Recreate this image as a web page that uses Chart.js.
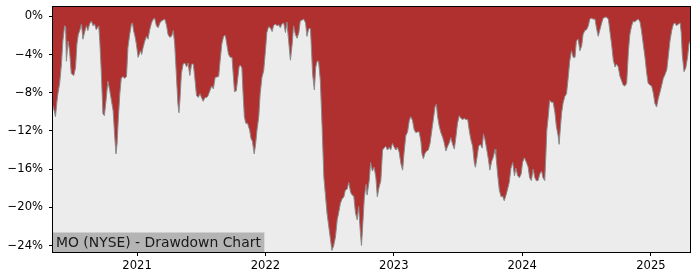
<!DOCTYPE html>
<html>
<head>
<meta charset="utf-8">
<script src="https://cdn.jsdelivr.net/npm/chart.js@4"></script>
<style>
html,body{margin:0;padding:0;background:#fff;}
#wrap{width:700px;height:280px;}
</style>
</head>
<body>
<div id="wrap"><canvas id="c" width="700" height="280"></canvas></div>
<script>
const dates = [
"2020-05-07","2020-05-11","2020-05-14","2020-05-18","2020-05-21","2020-05-26","2020-05-31","2020-06-04","2020-06-09","2020-06-12",
"2020-06-14","2020-06-19","2020-06-23","2020-06-28","2020-07-05","2020-07-10","2020-07-14","2020-07-18","2020-07-22","2020-07-27",
"2020-07-31","2020-08-06","2020-08-10","2020-08-14","2020-08-19","2020-08-24","2020-08-29","2020-09-02","2020-09-07","2020-09-14",
"2020-09-17","2020-09-21","2020-09-26","2020-09-30","2020-10-04","2020-10-10","2020-10-15","2020-10-20","2020-10-25","2020-10-29",
"2020-11-02","2020-11-05","2020-11-09","2020-11-13","2020-11-17","2020-11-22","2020-11-27","2020-12-02","2020-12-06","2020-12-11",
"2020-12-16","2020-12-19","2020-12-22","2020-12-26","2020-12-30","2021-01-04","2021-01-07","2021-01-11","2021-01-14","2021-01-18",
"2021-01-23","2021-01-28","2021-02-01","2021-02-06","2021-02-11","2021-02-16","2021-02-20","2021-02-25","2021-03-02","2021-03-07",
"2021-03-11","2021-03-16","2021-03-21","2021-03-26","2021-03-30","2021-04-04","2021-04-09","2021-04-14","2021-04-18","2021-04-23",
"2021-04-27","2021-04-30","2021-05-03","2021-05-07","2021-05-12","2021-05-17","2021-05-22","2021-05-26","2021-05-31","2021-06-05",
"2021-06-10","2021-06-14","2021-06-19","2021-06-24","2021-06-29","2021-07-03","2021-07-08","2021-07-13","2021-07-18","2021-07-22",
"2021-07-27","2021-08-01",
"2021-08-06","2021-08-11","2021-08-21","2021-08-25","2021-08-30","2021-09-04","2021-09-09","2021-09-13","2021-09-18","2021-09-23",
"2021-09-28","2021-10-02","2021-10-05","2021-10-10","2021-10-14","2021-10-18","2021-10-21","2021-10-26","2021-10-29","2021-11-02",
"2021-11-06","2021-11-11","2021-11-17","2021-11-21","2021-11-25","2021-11-30","2021-12-04","2021-12-08","2021-12-13","2021-12-17",
"2021-12-22","2021-12-27","2022-01-01","2022-01-05","2022-01-10","2022-01-15","2022-01-20","2022-01-24","2022-01-29","2022-02-03",
"2022-02-08","2022-02-12","2022-02-17","2022-02-22","2022-02-27","2022-03-03","2022-03-08","2022-03-13","2022-03-18","2022-03-22",
"2022-03-27","2022-04-01","2022-04-06","2022-04-10","2022-04-15","2022-04-20","2022-04-25","2022-04-29","2022-05-04","2022-05-09",
"2022-05-12","2022-05-15","2022-05-20","2022-05-24","2022-05-28","2022-06-01","2022-06-06","2022-06-11","2022-06-16","2022-06-20",
"2022-06-25","2022-06-30","2022-07-05","2022-07-09","2022-07-14","2022-07-19","2022-07-24","2022-07-28","2022-08-02","2022-08-07",
"2022-08-12","2022-08-16","2022-08-21","2022-08-26","2022-08-31","2022-09-04","2022-09-09","2022-09-14","2022-09-19","2022-09-23",
"2022-09-28","2022-10-01","2022-10-06","2022-10-09","2022-10-14","2022-10-17",
"2022-10-23","2022-10-27","2022-11-01","2022-11-06","2022-11-11","2022-11-15","2022-11-20","2022-11-25","2022-11-30","2022-12-04",
"2022-12-09","2022-12-14","2022-12-19","2022-12-23","2022-12-28","2023-01-02","2023-01-07","2023-01-11","2023-01-16","2023-01-21",
"2023-01-26","2023-01-30","2023-02-04","2023-02-09","2023-02-14","2023-02-18","2023-02-23","2023-02-28","2023-03-05","2023-03-09",
"2023-03-14","2023-03-19","2023-03-22","2023-03-26","2023-03-30","2023-04-04","2023-04-09","2023-04-14","2023-04-18","2023-04-23",
"2023-04-28","2023-05-02","2023-05-05","2023-05-10","2023-05-15","2023-05-20","2023-05-24","2023-05-29","2023-06-03","2023-06-08",
"2023-06-12","2023-06-17","2023-06-22","2023-06-27","2023-07-01","2023-07-06","2023-07-11","2023-07-16","2023-07-20","2023-07-25",
"2023-07-30","2023-08-04","2023-08-08","2023-08-13","2023-08-18","2023-08-21","2023-08-25","2023-08-30","2023-09-04","2023-09-09",
"2023-09-13","2023-09-17","2023-09-22","2023-09-27","2023-10-01","2023-10-06","2023-10-11","2023-10-16","2023-10-18","2023-10-23",
"2023-10-28","2023-11-02","2023-11-06","2023-11-11","2023-11-16","2023-11-21","2023-11-25","2023-11-30","2023-12-05","2023-12-10",
"2023-12-14","2023-12-19","2023-12-24","2023-12-29","2024-01-02","2024-01-07",
"2024-01-13","2024-01-18","2024-01-22","2024-01-27","2024-02-01","2024-02-06","2024-02-10","2024-02-15","2024-02-20","2024-02-25",
"2024-02-29","2024-03-05","2024-03-08","2024-03-11","2024-03-15","2024-03-19","2024-03-24","2024-03-29","2024-04-03","2024-04-07",
"2024-04-12","2024-04-15","2024-04-18","2024-04-22","2024-04-26","2024-05-01","2024-05-06","2024-05-11","2024-05-15","2024-05-20",
"2024-05-25","2024-05-30","2024-06-03","2024-06-08","2024-06-13","2024-06-18","2024-06-22","2024-06-27","2024-07-02","2024-07-07",
"2024-07-11","2024-07-16","2024-07-21","2024-07-26","2024-07-30","2024-08-04","2024-08-09","2024-08-14","2024-08-18","2024-08-23",
"2024-08-28","2024-09-02","2024-09-06","2024-09-11","2024-09-16","2024-09-21","2024-09-25","2024-09-30","2024-10-05","2024-10-10",
"2024-10-14","2024-10-19","2024-10-24","2024-10-29","2024-11-02","2024-11-07","2024-11-12","2024-11-16","2024-11-21","2024-11-26",
"2024-12-01","2024-12-05","2024-12-10","2024-12-15","2024-12-20","2024-12-24","2024-12-29","2025-01-03","2025-01-08","2025-01-12",
"2025-01-17","2025-01-22","2025-01-27","2025-01-31","2025-02-05","2025-02-10","2025-02-15","2025-02-19","2025-02-24","2025-03-01",
"2025-03-06","2025-03-10","2025-03-15","2025-03-20","2025-03-25","2025-03-28","2025-03-31","2025-04-05","2025-04-10","2025-04-15",
"2025-04-19","2025-04-22"
];

const drawdown = [
-9.4,-10.0,-10.5,-9.0,-8.1,-7.0,-5.0,-2.6,-1.0,-1.1,
-4.7,-2.6,-3.6,-6.0,-6.2,-5.4,-2.9,-1.9,-1.5,-0.8,
-2.4,-1.5,-1.0,-1.5,-0.8,-0.5,-1.0,-0.8,-1.4,-1.0,
-2.6,-5.6,-10.2,-10.4,-9.1,-6.8,-7.7,-8.8,-9.9,-12.3,
-14.4,-13.4,-10.5,-8.1,-6.5,-6.3,-6.5,-6.3,-3.3,-1.9,
-0.8,-0.7,-1.5,-2.1,-2.9,-4.3,-4.0,-3.6,-4.0,-3.3,
-2.6,-2.1,-2.4,-1.4,-0.7,-0.3,-0.2,-1.0,-1.2,-0.7,
-0.5,-0.4,-0.3,-1.0,-1.9,-2.2,-2.1,-1.5,-2.9,-6.3,
-9.1,-10.1,-8.7,-6.0,-5.0,-4.9,-5.3,-4.9,-6.2,-5.0,
-5.0,-6.4,-8.3,-8.5,-8.1,-8.5,-8.9,-8.5,-8.5,-8.3,
-7.8,-7.3,
-7.6,-6.4,-6.3,-4.7,-2.9,-2.1,-2.0,-2.9,-4.0,-4.3,
-4.3,-6.4,-7.9,-7.8,-6.6,-5.3,-5.1,-5.4,-7.8,-10.5,
-11.2,-11.2,-11.9,-12.8,-13.1,-14.4,-13.4,-11.9,-10.5,-8.1,
-6.4,-5.7,-3.6,-1.7,-1.1,-1.2,-1.6,-1.0,-0.8,-1.0,
-0.9,-1.2,-0.8,-0.7,-1.7,-0.6,-2.6,-4.6,-2.9,-1.0,
-1.9,-2.3,-1.7,-0.5,-0.4,-0.3,-0.7,-2.1,-1.3,-1.3,
-3.6,-6.0,-7.7,-5.3,-4.7,-4.7,-6.7,-11.5,-16.8,-18.5,
-20.6,-22.0,-23.4,-24.5,-24.0,-23.1,-21.3,-20.6,-19.6,-19.1,
-18.9,-18.2,-18.1,-17.4,-18.4,-18.7,-18.8,-20.6,-21.3,-19.9,
-22.7,-24.0,-21.0,-19.0,-17.6,-18.7,
-17.2,-15.3,-16.2,-15.8,-16.9,-18.9,-17.9,-17.2,-14.0,-13.8,
-13.6,-14.0,-13.7,-14.0,-13.3,-13.7,-14.0,-13.7,-14.2,-15.4,
-16.1,-14.3,-12.5,-12.1,-10.9,-10.5,-10.9,-11.9,-12.2,-12.1,
-12.1,-13.1,-14.4,-14.9,-14.4,-14.1,-14.0,-13.3,-12.2,-10.9,
-9.5,-9.2,-10.4,-11.5,-12.2,-12.7,-13.2,-14.1,-13.6,-13.2,
-12.7,-13.4,-13.9,-12.5,-11.2,-10.4,-10.7,-10.8,-10.7,-10.8,
-10.8,-12.1,-12.9,-13.6,-15.4,-15.8,-14.9,-13.6,-13.4,-13.8,
-12.3,-12.9,-13.9,-15.0,-16.1,-15.2,-14.7,-13.9,-14.4,-16.5,
-18.2,-18.9,-18.8,-19.3,-18.7,-18.0,-17.4,-15.9,-15.3,-16.7,
-15.9,-16.7,-16.9,-16.5,-15.3,-14.8,
-15.3,-15.8,-16.9,-17.2,-16.0,-16.9,-17.2,-17.2,-16.5,-16.2,
-16.9,-17.2,-14.7,-11.9,-10.5,-8.8,-9.0,-9.0,-10.1,-11.5,
-12.5,-13.4,-11.9,-10.1,-9.1,-8.4,-8.1,-6.3,-4.7,-3.6,
-4.3,-4.3,-2.6,-2.4,-3.6,-3.1,-1.9,-1.5,-1.4,-1.0,
-0.3,-0.2,-0.3,-0.3,-1.2,-2.1,-1.4,-0.7,-0.2,-0.1,
-0.1,-0.3,-1.5,-2.9,-4.6,-5.3,-5.0,-5.3,-6.3,-6.8,
-7.2,-7.3,-7.0,-3.6,-1.9,-1.0,-0.5,-0.6,-0.4,-0.3,
-0.6,-1.5,-2.9,-4.3,-6.0,-7.0,-7.2,-7.3,-8.1,-9.1,
-9.5,-8.6,-7.9,-7.3,-6.5,-6.1,-5.6,-4.3,-2.6,-1.5,
-0.8,-0.7,-1.0,-0.8,-0.7,-1.7,-4.0,-5.8,-5.4,-4.3,
-2.9,-2.6
];

const yearTicks = [2021, 2022, 2023, 2024, 2025];
const pctTicks = [0, -4, -8, -12, -16, -20, -24];
const chartTitle = "MO (NYSE) - Drawdown Chart";

const toTs = s => { const p = s.split('-').map(Number); return Date.UTC(p[0], p[1]-1, p[2]); };
const points = dates.map((d, i) => ({x: toTs(d), y: drawdown[i]}));

const FONT = "'DejaVu Sans', 'Liberation Sans', sans-serif";

const bgPlugin = {
  id: 'bgPlugin',
  beforeDatasetsDraw(chart) {
    const {ctx, chartArea: a} = chart;
    ctx.save();
    ctx.fillStyle = '#b03030';
    ctx.fillRect(a.left, a.top, a.right - a.left, a.bottom - a.top);
    ctx.restore();
  },
  afterDraw(chart) {
    const {ctx, chartArea: a} = chart;
    ctx.save();
    ctx.font = "13.9px " + FONT;
    const w = ctx.measureText(chartTitle).width;
    ctx.fillStyle = '#b4b4b4';
    ctx.fillRect(a.left, a.bottom - 19.5, w + 6.5, 19.5);
    ctx.fillStyle = '#1a1a1a';
    ctx.textBaseline = 'alphabetic';
    ctx.textAlign = 'left';
    ctx.fillText(chartTitle, a.left + 3, a.bottom - 5.5);
    ctx.strokeStyle = '#000';
    ctx.lineWidth = 1;
    ctx.strokeRect(Math.round(a.left) - 0.5, Math.round(a.top) - 0.5,
                   Math.round(a.right - a.left) + 1, Math.round(a.bottom - a.top) + 1);
    ctx.restore();
  }
};

new Chart(document.getElementById('c'), {
  type: 'line',
  data: {
    datasets: [{
      data: points,
      borderColor: '#8a8a8a',
      borderWidth: 1,
      backgroundColor: '#ececec',
      fill: 'start',
      pointRadius: 0,
      tension: 0
    }]
  },
  options: {
    responsive: false,
    animation: false,
    layout: {padding: {top: 7, right: 10, left: 0, bottom: 0}},
    plugins: {legend: {display: false}, tooltip: {enabled: false}},
    scales: {
      x: {
        type: 'linear',
        min: toTs(dates[0]),
        max: toTs(dates[dates.length - 1]),
        afterBuildTicks(scale) { scale.ticks = yearTicks.map(y => ({value: Date.UTC(y, 0, 1)})); },
        afterFit(scale) { scale.height = 28; scale.paddingLeft = 0; scale.paddingRight = 0; },
        grid: {display: true, drawOnChartArea: false, drawTicks: true, tickLength: 4, color: '#000'},
        border: {display: false},
        ticks: {
          color: '#000', padding: 3, maxRotation: 0, autoSkip: false,
          font: {family: FONT, size: 11.57},
          callback: v => String(new Date(v).getUTCFullYear())
        }
      },
      y: {
        type: 'linear',
        min: -24.67,
        max: 0.97,
        afterBuildTicks(scale) { scale.ticks = pctTicks.map(v => ({value: v})); },
        afterFit(scale) { scale.width = 53; scale.paddingTop = 0; scale.paddingBottom = 0; },
        grid: {display: true, drawOnChartArea: false, drawTicks: true, tickLength: 4, color: '#000'},
        border: {display: false},
        ticks: {
          color: '#000', padding: 6, autoSkip: false,
          font: {family: FONT, size: 11.57},
          callback: v => (v === 0 ? '0' : '\u2212' + Math.abs(v)) + '%'
        }
      }
    }
  },
  plugins: [bgPlugin]
});
</script>
</body>
</html>
